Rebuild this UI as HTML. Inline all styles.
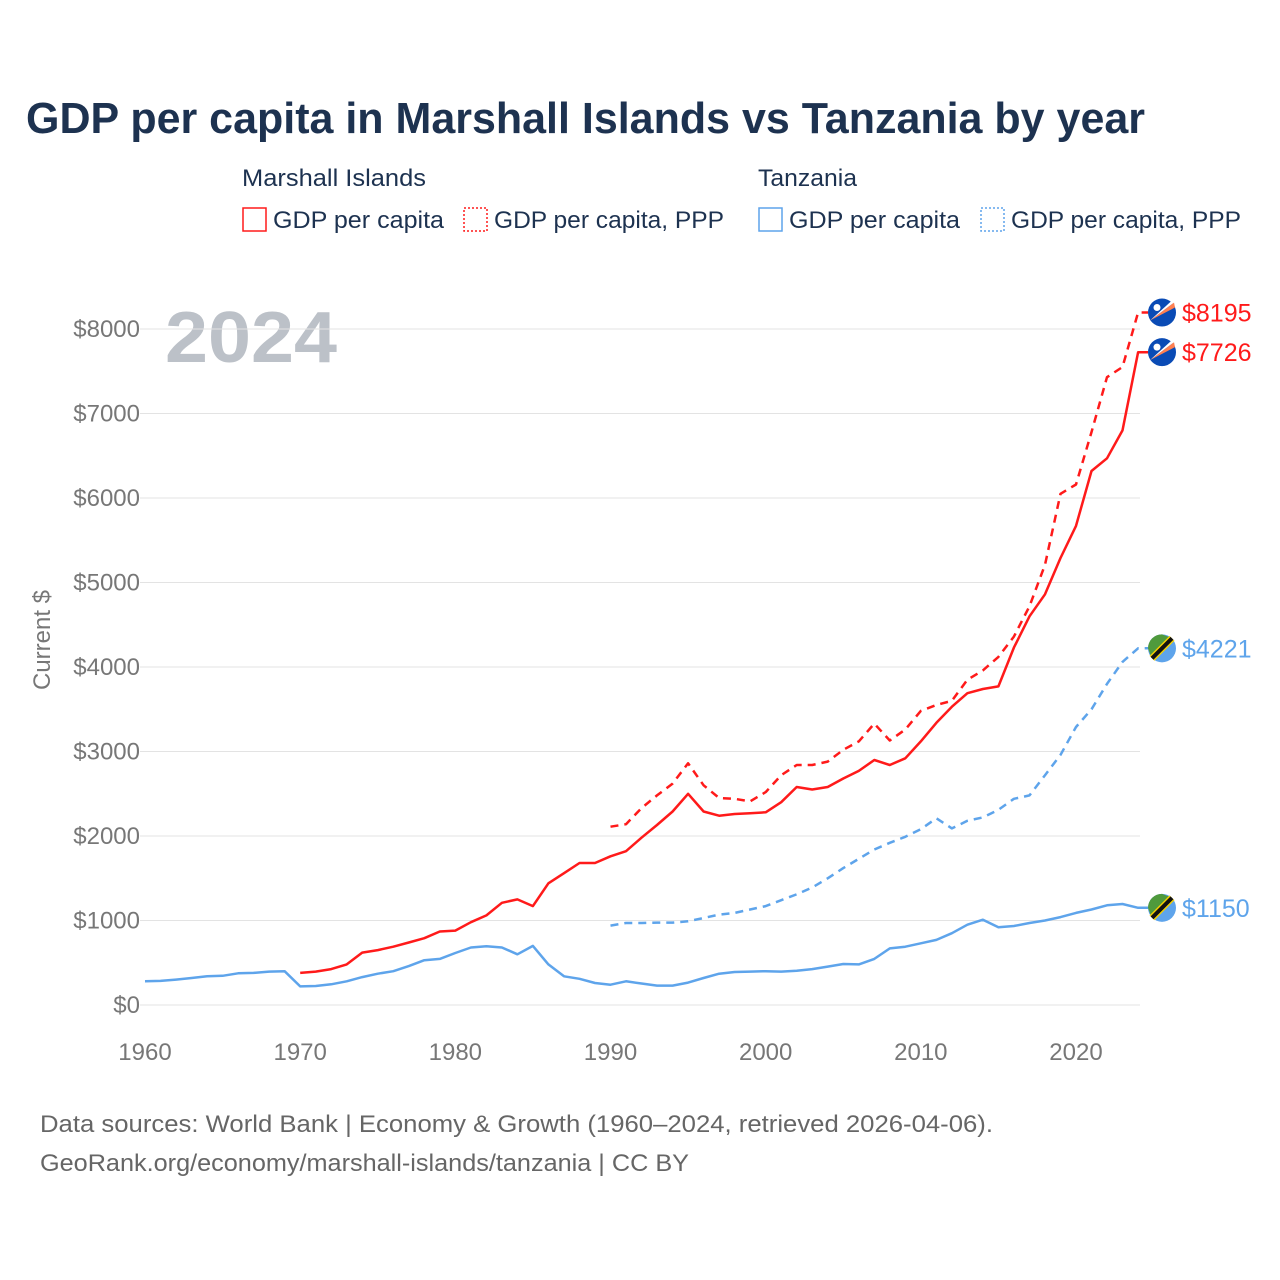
<!DOCTYPE html>
<html><head><meta charset="utf-8"><style>
body{margin:0;background:#fff;font-family:"Liberation Sans",sans-serif;}
#wrap{position:relative;width:1280px;height:1280px;overflow:hidden;}
</style></head><body>
<div id="wrap">
<svg id="chart" width="1280" height="1280" xmlns="http://www.w3.org/2000/svg">
<text x="26" y="133" font-size="44" font-weight="bold" fill="#1d3250" textLength="1119" lengthAdjust="spacingAndGlyphs">GDP per capita in Marshall Islands vs Tanzania by year</text>
<g font-size="24" fill="#1d3250">
<text x="242" y="186" textLength="184" lengthAdjust="spacingAndGlyphs">Marshall Islands</text>
<text x="758" y="186" textLength="99" lengthAdjust="spacingAndGlyphs">Tanzania</text>
<g><rect x="243" y="208" width="23" height="23" fill="none" stroke="#ff1a1a" stroke-width="1.5"/><text x="273" y="228" textLength="171" lengthAdjust="spacingAndGlyphs">GDP per capita</text></g>
<g><rect x="464" y="208" width="23" height="23" fill="none" stroke="#ff1a1a" stroke-width="1.5" stroke-dasharray="2,2"/><text x="494" y="228" textLength="230" lengthAdjust="spacingAndGlyphs">GDP per capita, PPP</text></g>
<g><rect x="759" y="208" width="23" height="23" fill="none" stroke="#5ea4eb" stroke-width="1.5"/><text x="789" y="228" textLength="171" lengthAdjust="spacingAndGlyphs">GDP per capita</text></g>
<g><rect x="981" y="208" width="23" height="23" fill="none" stroke="#5ea4eb" stroke-width="1.5" stroke-dasharray="2,2"/><text x="1011" y="228" textLength="230" lengthAdjust="spacingAndGlyphs">GDP per capita, PPP</text></g>
</g>
<text x="165" y="362" font-size="72" font-weight="bold" fill="#bcc1c8" textLength="172" lengthAdjust="spacingAndGlyphs">2024</text>
<text transform="translate(50,640) rotate(-90)" text-anchor="middle" font-size="24" fill="#777">Current $</text>
<g id="grid"></g><g id="yt"></g><g id="xt"></g><g id="lines"></g><g id="ends"></g>
<text x="40" y="1132" font-size="24" fill="#666" textLength="953" lengthAdjust="spacingAndGlyphs">Data sources: World Bank | Economy &amp; Growth (1960–2024, retrieved 2026-04-06).</text>
<text x="40" y="1171" font-size="24" fill="#666" textLength="649" lengthAdjust="spacingAndGlyphs">GeoRank.org/economy/marshall-islands/tanzania | CC BY</text>
</svg></div>
<script>
const yTicks=[0,1000,2000,3000,4000,5000,6000,7000,8000];
const xTicks=[1960,1970,1980,1990,2000,2010,2020];
const tzaGdp=[280,285,300,320,340,345,375,380,395,400,220,225,245,280,330,370,400,460,530,545,615,680,695,680,600,700,480,340,310,260,240,280,255,230,230,265,320,370,390,395,400,395,405,425,455,485,480,545,670,690,730,770,850,950,1010,920,935,970,1000,1040,1090,1130,1180,1195,1150];
const mhlGdp=[380,395,425,480,620,650,690,740,790,870,880,980,1060,1210,1250,1170,1440,1560,1680,1680,1760,1820,1980,2130,2290,2500,2290,2240,2260,2270,2280,2400,2580,2550,2580,2680,2770,2900,2840,2920,3120,3340,3530,3690,3740,3770,4230,4600,4860,5290,5670,6320,6470,6800,7726];
const mhlPpp=[2110,2140,2330,2480,2620,2860,2600,2450,2440,2410,2520,2720,2840,2840,2880,3020,3120,3330,3130,3260,3480,3550,3600,3850,3960,4120,4360,4720,5210,6050,6160,6780,7430,7550,8195];
const tzaPpp=[940,970,970,975,975,990,1030,1070,1090,1130,1170,1240,1310,1390,1500,1620,1730,1840,1920,1990,2080,2210,2090,2180,2220,2310,2440,2480,2720,2960,3290,3500,3800,4060,4221];
const NS='http://www.w3.org/2000/svg';
const X=y=>145+(y-1960)*(1076-145)/60;
const Y=v=>1005-v*0.0845;
function mk(t,a,p){const e=document.createElementNS(NS,t);for(const k in a)e.setAttribute(k,a[k]);p.appendChild(e);return e;}
const grid=document.getElementById('grid'),yt=document.getElementById('yt'),xt=document.getElementById('xt');
yTicks.forEach(v=>{
 const l=mk('line',{x1:140,x2:1140,y1:Y(v),y2:Y(v),stroke:'#e3e3e3','stroke-width':1},grid);
 
 
 const t=mk('text',{x:140,y:Y(v)+8,'text-anchor':'end','font-size':24,fill:'#777'},yt);t.textContent='$'+v;
 
 
});
xTicks.forEach(y=>{
 const t=mk('text',{x:X(y),y:1060,'text-anchor':'middle','font-size':24,fill:'#777'},xt);t.textContent=y;
 
 
});
const lines=document.getElementById('lines'),ends=document.getElementById('ends');
const series=[
 {d:tzaGdp,s:1960,c:'#5ea4eb',dash:'',n:'line-tanzania-gdp',f:'tza'},
 {d:tzaPpp,s:1990,c:'#5ea4eb',dash:'8,6',n:'line-tanzania-ppp',f:'tza'},
 {d:mhlGdp,s:1970,c:'#ff1a1a',dash:'',n:'line-marshall-gdp',f:'mhl'},
 {d:mhlPpp,s:1990,c:'#ff1a1a',dash:'8,6',n:'line-marshall-ppp',f:'mhl'}];
series.forEach(o=>{
 let pts=o.d.map((v,i)=>X(o.s+i).toFixed(1)+','+Y(v).toFixed(1));
 const last=o.d[o.d.length-1];
 pts.push((X(o.s+o.d.length-1)+10).toFixed(1)+','+Y(last).toFixed(1));
 const p=mk('polyline',{points:pts.join(' '),fill:'none',stroke:o.c,'stroke-width':2.5,'stroke-dasharray':o.dash,'stroke-linejoin':'round'},lines);
 
 
 const cy=Y(last),cx=1162;
 const g=mk('g',{},ends);
 
 
 if(o.f==='mhl'){
  mk('circle',{cx:cx,cy:cy,r:14,fill:'#0a4bb5'},g);
  mk('polygon',{points:`${cx-12},${cy+8} ${cx+12},${cy-10} ${cx+13},${cy-5}`,fill:'#ff7f50'},g);
  mk('polygon',{points:`${cx-12},${cy+8} ${cx+10},${cy-12} ${cx+12},${cy-10}`,fill:'#fff'},g);
  mk('circle',{cx:cx-5,cy:cy-5,r:3.5,fill:'#fff'},g);
 }else{
  mk('circle',{cx:cx,cy:cy,r:14,fill:'#5ea4eb'},g);
  mk('path',{d:`M${cx-14},${cy} A14,14 0 0 1 ${cx},${cy-14} L${cx+8},${cy-11} L${cx-11},${cy+8} Z`,fill:'#4f9a3c'},g);
  mk('line',{x1:cx-10,y1:cy+10,x2:cx+10,y2:cy-10,stroke:'#f5d000','stroke-width':7},g);
  mk('line',{x1:cx-10,y1:cy+10,x2:cx+10,y2:cy-10,stroke:'#111','stroke-width':4},g);
 }
 const t=mk('text',{x:1182,y:cy+9,'font-size':25,fill:o.c},ends);t.textContent='$'+last;
 
 
});
</script>
</body></html>
